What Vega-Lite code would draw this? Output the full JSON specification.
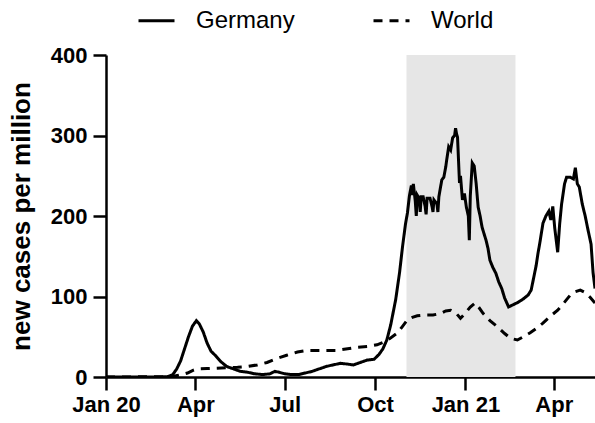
{
  "$schema": "https://vega.github.io/schema/vega-lite/v6.json",
  "width": 489,
  "height": 322,
  "autosize": {"type": "none"},
  "padding": {"left": 106, "top": 55, "right": 0, "bottom": 46},
  "background": "white",
  "config": {
    "view": {"stroke": null},
    "axis": {
      "domainColor": "black", "domainWidth": 2.5, "tickColor": "black", "tickWidth": 2.5, "tickSize": 13,
      "labelFont": "Liberation Sans", "labelFontWeight": "bold", "labelFontSize": 22, "labelColor": "black",
      "labelFlush": false, "labelOverlap": false,
      "grid": false, "titleFont": "Liberation Sans", "titleFontWeight": "bold", "titleFontSize": 26, "titleColor": "black"
    },
    "legend": {
      "orient": "none", "legendX": 31, "legendY": -54, "direction": "horizontal",
      "labelFont": "Liberation Sans", "labelFontSize": 24, "labelColor": "black",
      "symbolStrokeColor": "black", "symbolStrokeWidth": 3, "symbolSize": 1296, "symbolType": "stroke",
      "labelOffset": 20, "columnPadding": 72, "title": null
    }
  },
  "datasets": {
    "period": [{"start": "2020-11-02", "end": "2021-02-21"}],
    "cases": [
      {"date": "2020-01-01", "series": "Germany", "value": 0},
      {"date": "2020-02-25", "series": "Germany", "value": 0},
      {"date": "2020-03-04", "series": "Germany", "value": 0.5},
      {"date": "2020-03-09", "series": "Germany", "value": 3},
      {"date": "2020-03-13", "series": "Germany", "value": 10},
      {"date": "2020-03-17", "series": "Germany", "value": 20},
      {"date": "2020-03-21", "series": "Germany", "value": 35},
      {"date": "2020-03-25", "series": "Germany", "value": 50},
      {"date": "2020-03-29", "series": "Germany", "value": 63},
      {"date": "2020-04-02", "series": "Germany", "value": 70},
      {"date": "2020-04-05", "series": "Germany", "value": 66},
      {"date": "2020-04-09", "series": "Germany", "value": 56},
      {"date": "2020-04-13", "series": "Germany", "value": 42},
      {"date": "2020-04-17", "series": "Germany", "value": 32},
      {"date": "2020-04-22", "series": "Germany", "value": 26},
      {"date": "2020-04-27", "series": "Germany", "value": 19},
      {"date": "2020-05-03", "series": "Germany", "value": 13},
      {"date": "2020-05-10", "series": "Germany", "value": 10},
      {"date": "2020-05-17", "series": "Germany", "value": 7},
      {"date": "2020-05-24", "series": "Germany", "value": 6},
      {"date": "2020-05-31", "series": "Germany", "value": 4},
      {"date": "2020-06-09", "series": "Germany", "value": 3},
      {"date": "2020-06-16", "series": "Germany", "value": 4},
      {"date": "2020-06-21", "series": "Germany", "value": 7},
      {"date": "2020-06-25", "series": "Germany", "value": 6},
      {"date": "2020-07-01", "series": "Germany", "value": 4},
      {"date": "2020-07-08", "series": "Germany", "value": 3},
      {"date": "2020-07-15", "series": "Germany", "value": 3},
      {"date": "2020-07-22", "series": "Germany", "value": 5},
      {"date": "2020-07-29", "series": "Germany", "value": 7},
      {"date": "2020-08-05", "series": "Germany", "value": 10},
      {"date": "2020-08-12", "series": "Germany", "value": 13},
      {"date": "2020-08-19", "series": "Germany", "value": 15},
      {"date": "2020-08-27", "series": "Germany", "value": 17},
      {"date": "2020-09-03", "series": "Germany", "value": 16},
      {"date": "2020-09-09", "series": "Germany", "value": 15},
      {"date": "2020-09-16", "series": "Germany", "value": 18},
      {"date": "2020-09-23", "series": "Germany", "value": 21},
      {"date": "2020-09-30", "series": "Germany", "value": 22},
      {"date": "2020-10-05", "series": "Germany", "value": 28},
      {"date": "2020-10-09", "series": "Germany", "value": 35},
      {"date": "2020-10-13", "series": "Germany", "value": 46},
      {"date": "2020-10-17", "series": "Germany", "value": 65},
      {"date": "2020-10-22", "series": "Germany", "value": 96},
      {"date": "2020-10-26", "series": "Germany", "value": 130},
      {"date": "2020-10-29", "series": "Germany", "value": 162},
      {"date": "2020-11-01", "series": "Germany", "value": 190},
      {"date": "2020-11-03", "series": "Germany", "value": 204},
      {"date": "2020-11-05", "series": "Germany", "value": 225},
      {"date": "2020-11-07", "series": "Germany", "value": 238},
      {"date": "2020-11-08", "series": "Germany", "value": 226},
      {"date": "2020-11-09", "series": "Germany", "value": 240},
      {"date": "2020-11-11", "series": "Germany", "value": 218},
      {"date": "2020-11-12", "series": "Germany", "value": 200},
      {"date": "2020-11-13", "series": "Germany", "value": 226},
      {"date": "2020-11-15", "series": "Germany", "value": 222},
      {"date": "2020-11-16", "series": "Germany", "value": 205},
      {"date": "2020-11-17", "series": "Germany", "value": 224},
      {"date": "2020-11-19", "series": "Germany", "value": 224},
      {"date": "2020-11-21", "series": "Germany", "value": 212},
      {"date": "2020-11-22", "series": "Germany", "value": 202},
      {"date": "2020-11-23", "series": "Germany", "value": 222},
      {"date": "2020-11-26", "series": "Germany", "value": 222},
      {"date": "2020-11-28", "series": "Germany", "value": 212},
      {"date": "2020-11-29", "series": "Germany", "value": 205},
      {"date": "2020-11-30", "series": "Germany", "value": 220},
      {"date": "2020-12-03", "series": "Germany", "value": 215},
      {"date": "2020-12-04", "series": "Germany", "value": 205},
      {"date": "2020-12-05", "series": "Germany", "value": 224},
      {"date": "2020-12-08", "series": "Germany", "value": 245},
      {"date": "2020-12-10", "series": "Germany", "value": 248},
      {"date": "2020-12-12", "series": "Germany", "value": 261},
      {"date": "2020-12-13", "series": "Germany", "value": 270},
      {"date": "2020-12-15", "series": "Germany", "value": 286},
      {"date": "2020-12-17", "series": "Germany", "value": 282},
      {"date": "2020-12-19", "series": "Germany", "value": 297},
      {"date": "2020-12-21", "series": "Germany", "value": 300},
      {"date": "2020-12-22", "series": "Germany", "value": 309},
      {"date": "2020-12-23", "series": "Germany", "value": 302},
      {"date": "2020-12-24", "series": "Germany", "value": 298},
      {"date": "2020-12-26", "series": "Germany", "value": 241},
      {"date": "2020-12-27", "series": "Germany", "value": 250},
      {"date": "2020-12-29", "series": "Germany", "value": 220},
      {"date": "2020-12-31", "series": "Germany", "value": 228},
      {"date": "2021-01-02", "series": "Germany", "value": 211},
      {"date": "2021-01-04", "series": "Germany", "value": 200},
      {"date": "2021-01-05", "series": "Germany", "value": 170},
      {"date": "2021-01-06", "series": "Germany", "value": 225},
      {"date": "2021-01-08", "series": "Germany", "value": 266},
      {"date": "2021-01-10", "series": "Germany", "value": 262},
      {"date": "2021-01-12", "series": "Germany", "value": 240},
      {"date": "2021-01-14", "series": "Germany", "value": 211},
      {"date": "2021-01-16", "series": "Germany", "value": 200},
      {"date": "2021-01-18", "series": "Germany", "value": 186},
      {"date": "2021-01-20", "series": "Germany", "value": 178},
      {"date": "2021-01-22", "series": "Germany", "value": 170},
      {"date": "2021-01-24", "series": "Germany", "value": 160},
      {"date": "2021-01-26", "series": "Germany", "value": 145},
      {"date": "2021-01-29", "series": "Germany", "value": 136},
      {"date": "2021-02-01", "series": "Germany", "value": 129},
      {"date": "2021-02-04", "series": "Germany", "value": 118},
      {"date": "2021-02-07", "series": "Germany", "value": 110},
      {"date": "2021-02-10", "series": "Germany", "value": 98},
      {"date": "2021-02-14", "series": "Germany", "value": 87},
      {"date": "2021-02-19", "series": "Germany", "value": 90},
      {"date": "2021-02-24", "series": "Germany", "value": 93},
      {"date": "2021-03-01", "series": "Germany", "value": 97},
      {"date": "2021-03-06", "series": "Germany", "value": 102},
      {"date": "2021-03-09", "series": "Germany", "value": 108},
      {"date": "2021-03-11", "series": "Germany", "value": 120},
      {"date": "2021-03-14", "series": "Germany", "value": 138},
      {"date": "2021-03-16", "series": "Germany", "value": 154},
      {"date": "2021-03-18", "series": "Germany", "value": 168},
      {"date": "2021-03-21", "series": "Germany", "value": 191},
      {"date": "2021-03-24", "series": "Germany", "value": 200},
      {"date": "2021-03-27", "series": "Germany", "value": 206},
      {"date": "2021-03-29", "series": "Germany", "value": 195},
      {"date": "2021-03-31", "series": "Germany", "value": 212},
      {"date": "2021-04-02", "series": "Germany", "value": 185},
      {"date": "2021-04-05", "series": "Germany", "value": 155},
      {"date": "2021-04-07", "series": "Germany", "value": 190},
      {"date": "2021-04-09", "series": "Germany", "value": 215},
      {"date": "2021-04-12", "series": "Germany", "value": 240},
      {"date": "2021-04-14", "series": "Germany", "value": 248},
      {"date": "2021-04-18", "series": "Germany", "value": 248},
      {"date": "2021-04-21", "series": "Germany", "value": 246},
      {"date": "2021-04-23", "series": "Germany", "value": 260},
      {"date": "2021-04-25", "series": "Germany", "value": 240},
      {"date": "2021-04-27", "series": "Germany", "value": 236},
      {"date": "2021-04-30", "series": "Germany", "value": 215},
      {"date": "2021-05-03", "series": "Germany", "value": 200},
      {"date": "2021-05-06", "series": "Germany", "value": 182},
      {"date": "2021-05-09", "series": "Germany", "value": 165},
      {"date": "2021-05-11", "series": "Germany", "value": 130},
      {"date": "2021-05-13", "series": "Germany", "value": 110},
      {"date": "2020-01-01", "series": "World", "value": 0},
      {"date": "2020-01-25", "series": "World", "value": 0.1},
      {"date": "2020-02-10", "series": "World", "value": 0.4},
      {"date": "2020-02-25", "series": "World", "value": 0.2},
      {"date": "2020-03-05", "series": "World", "value": 0.5},
      {"date": "2020-03-12", "series": "World", "value": 1.5},
      {"date": "2020-03-18", "series": "World", "value": 3},
      {"date": "2020-03-24", "series": "World", "value": 5},
      {"date": "2020-03-29", "series": "World", "value": 8},
      {"date": "2020-04-03", "series": "World", "value": 10},
      {"date": "2020-04-13", "series": "World", "value": 10.5},
      {"date": "2020-04-23", "series": "World", "value": 11},
      {"date": "2020-05-04", "series": "World", "value": 11.5},
      {"date": "2020-05-14", "series": "World", "value": 12},
      {"date": "2020-05-24", "series": "World", "value": 13},
      {"date": "2020-06-03", "series": "World", "value": 15},
      {"date": "2020-06-13", "series": "World", "value": 18},
      {"date": "2020-06-23", "series": "World", "value": 23},
      {"date": "2020-07-03", "series": "World", "value": 27},
      {"date": "2020-07-14", "series": "World", "value": 31},
      {"date": "2020-07-24", "series": "World", "value": 33},
      {"date": "2020-08-03", "series": "World", "value": 33},
      {"date": "2020-08-13", "series": "World", "value": 33},
      {"date": "2020-08-23", "series": "World", "value": 33},
      {"date": "2020-09-03", "series": "World", "value": 35},
      {"date": "2020-09-13", "series": "World", "value": 37},
      {"date": "2020-09-23", "series": "World", "value": 38},
      {"date": "2020-10-03", "series": "World", "value": 40},
      {"date": "2020-10-13", "series": "World", "value": 45},
      {"date": "2020-10-24", "series": "World", "value": 55},
      {"date": "2020-10-29", "series": "World", "value": 63},
      {"date": "2020-11-03", "series": "World", "value": 71},
      {"date": "2020-11-08", "series": "World", "value": 74},
      {"date": "2020-11-13", "series": "World", "value": 76},
      {"date": "2020-11-21", "series": "World", "value": 77},
      {"date": "2020-11-29", "series": "World", "value": 77},
      {"date": "2020-12-07", "series": "World", "value": 79},
      {"date": "2020-12-12", "series": "World", "value": 82},
      {"date": "2020-12-17", "series": "World", "value": 83},
      {"date": "2020-12-22", "series": "World", "value": 80},
      {"date": "2020-12-27", "series": "World", "value": 73},
      {"date": "2020-12-31", "series": "World", "value": 78},
      {"date": "2021-01-06", "series": "World", "value": 87},
      {"date": "2021-01-11", "series": "World", "value": 92},
      {"date": "2021-01-15", "series": "World", "value": 86},
      {"date": "2021-01-19", "series": "World", "value": 79},
      {"date": "2021-01-26", "series": "World", "value": 70},
      {"date": "2021-02-03", "series": "World", "value": 62},
      {"date": "2021-02-10", "series": "World", "value": 54},
      {"date": "2021-02-16", "series": "World", "value": 48},
      {"date": "2021-02-23", "series": "World", "value": 46},
      {"date": "2021-03-01", "series": "World", "value": 50},
      {"date": "2021-03-08", "series": "World", "value": 55},
      {"date": "2021-03-15", "series": "World", "value": 61},
      {"date": "2021-03-21", "series": "World", "value": 67},
      {"date": "2021-03-28", "series": "World", "value": 75},
      {"date": "2021-04-05", "series": "World", "value": 83},
      {"date": "2021-04-12", "series": "World", "value": 93},
      {"date": "2021-04-18", "series": "World", "value": 102},
      {"date": "2021-04-23", "series": "World", "value": 106},
      {"date": "2021-04-28", "series": "World", "value": 108},
      {"date": "2021-05-03", "series": "World", "value": 105},
      {"date": "2021-05-08", "series": "World", "value": 99},
      {"date": "2021-05-13", "series": "World", "value": 92}
    ]
  },
  "layer": [
    {
      "data": {"name": "period"},
      "mark": {"type": "rect", "color": "#e6e6e6"},
      "encoding": {
        "x": {"field": "start", "type": "temporal"},
        "x2": {"field": "end"}
      }
    },
    {
      "data": {"name": "cases"},
      "mark": {"type": "line", "color": "black", "strokeWidth": 3, "clip": true},
      "encoding": {
        "x": {
          "field": "date", "type": "temporal",
          "scale": {"type": "utc", "domain": [{"year": 2020, "month": 1, "date": 1, "utc": true}, {"year": 2021, "month": 5, "date": 13, "utc": true}]},
          "axis": {
            "title": null, "labelPadding": 4,
            "values": [
              {"year": 2020, "month": 1, "date": 1, "utc": true},
              {"year": 2020, "month": 4, "date": 1, "utc": true},
              {"year": 2020, "month": 7, "date": 1, "utc": true},
              {"year": 2020, "month": 10, "date": 1, "utc": true},
              {"year": 2021, "month": 1, "date": 1, "utc": true},
              {"year": 2021, "month": 4, "date": 1, "utc": true}
            ],
            "labelExpr": "utcmonth(datum.value) == 0 ? 'Jan ' + utcFormat(datum.value, '%y') : utcFormat(datum.value, '%b')"
          }
        },
        "y": {
          "field": "value", "type": "quantitative",
          "scale": {"domain": [0, 400], "nice": false},
          "axis": {"title": "new cases per million", "values": [0, 100, 200, 300, 400], "labelPadding": 6, "titlePadding": 16}
        },
        "strokeDash": {
          "field": "series", "type": "nominal",
          "scale": {"domain": ["Germany", "World"], "range": [[1, 0], [9, 7]]}
        }
      }
    }
  ]
}
